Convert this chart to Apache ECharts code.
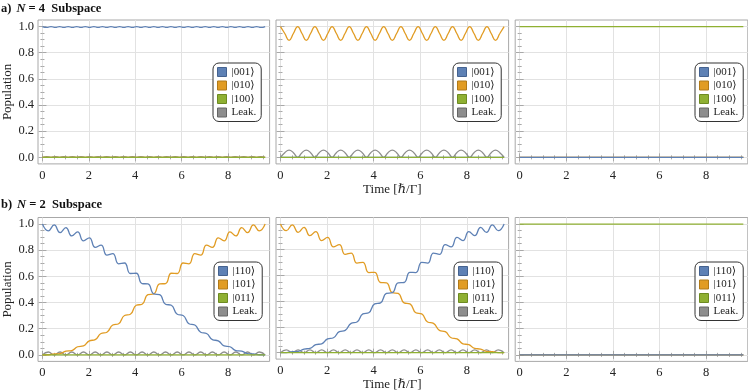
<!DOCTYPE html>
<html>
<head>
<meta charset="utf-8">
<script src="https://cdn.jsdelivr.net/npm/echarts@6/dist/echarts.min.js"></script>
<style>
  html, body { margin: 0; padding: 0; background: #fff; }
  #chart { width: 748px; height: 392px; }
</style>
</head>
<body>
<div id="chart"></div>
<script>
// sample times (time in hbar/Gamma)
const tTop = [0, 0.185, 0.369, 0.554, 0.738, 0.923, 1.108, 1.292, 1.477, 1.662, 1.846, 2.031, 2.215, 2.4, 2.585, 2.769,
  2.954, 3.138, 3.323, 3.508, 3.692, 3.877, 4.062, 4.246, 4.431, 4.615, 4.8, 4.985, 5.169, 5.354, 5.538, 5.723,
  5.908, 6.092, 6.277, 6.462, 6.646, 6.831, 7.015, 7.2, 7.385, 7.569, 7.754, 7.938, 8.123, 8.308, 8.492, 8.677,
  8.862, 9.046, 9.231, 9.415, 9.6];
const tBottom = [0, 0.253, 0.505, 0.758, 1.011, 1.263, 1.516, 1.768, 2.021, 2.274, 2.526, 2.779, 3.032, 3.284, 3.537,
  3.789, 4.042, 4.295, 4.547, 4.8, 5.053, 5.305, 5.558, 5.811, 6.063, 6.316, 6.568, 6.821, 7.074, 7.326, 7.579,
  7.832, 8.084, 8.337, 8.589, 8.842, 9.095, 9.347, 9.6];
const tFlat = [0, 9.6];

// N = 4 subspace
const stayN4 = [1, 0.993, 1, 0.993, 1, 0.993, 1, 0.993, 1, 0.993, 1, 0.993, 1, 0.993, 1, 0.993, 1, 0.993, 1, 0.993,
  1, 0.993, 1, 0.993, 1, 0.993, 1, 0.993, 1, 0.993, 1, 0.993, 1, 0.993, 1, 0.993, 1, 0.993, 1, 0.993, 1, 0.993,
  1, 0.993, 1, 0.993, 1, 0.993, 1, 0.993, 1, 0.993, 1];
const leakSmallN4 = [0, 0.006, 0, 0.006, 0, 0.006, 0, 0.006, 0, 0.006, 0, 0.006, 0, 0.006, 0, 0.006, 0, 0.006, 0, 0.006,
  0, 0.006, 0, 0.006, 0, 0.006, 0, 0.006, 0, 0.006, 0, 0.006, 0, 0.006, 0, 0.006, 0, 0.006, 0, 0.006, 0, 0.006,
  0, 0.006, 0, 0.006, 0, 0.006, 0, 0.006, 0, 0.006, 0];
const wobbleN4 = [1, 0.947, 0.895, 0.947, 1, 0.947, 0.895, 0.947, 1, 0.947, 0.895, 0.947, 1, 0.947, 0.895, 0.947,
  1, 0.947, 0.895, 0.947, 1, 0.947, 0.895, 0.947, 1, 0.947, 0.895, 0.947, 1, 0.947, 0.895, 0.947, 1, 0.947, 0.895, 0.947,
  1, 0.947, 0.895, 0.947, 1, 0.947, 0.895, 0.947, 1, 0.947, 0.895, 0.947, 1, 0.947, 0.895, 0.947, 1];
const leakN4 = [0, 0.036, 0.055, 0.036, 0, 0.036, 0.055, 0.036, 0, 0.036, 0.055, 0.036, 0, 0.036, 0.055, 0.036,
  0, 0.036, 0.055, 0.036, 0, 0.036, 0.055, 0.036, 0, 0.036, 0.055, 0.036, 0, 0.036, 0.055, 0.036, 0, 0.036, 0.055, 0.036,
  0, 0.036, 0.055, 0.036, 0, 0.036, 0.055, 0.036, 0, 0.036, 0.055, 0.036, 0, 0.036, 0.055, 0.036, 0];

// N = 2 subspace
const fallN2 = [1.000, 0.948, 0.993, 0.935, 0.973, 0.909, 0.940, 0.871, 0.895, 0.822, 0.839, 0.763, 0.774, 0.696,
  0.702, 0.622, 0.624, 0.545, 0.542, 0.466, 0.460, 0.387, 0.379, 0.310, 0.301, 0.238, 0.228, 0.173, 0.163, 0.116,
  0.107, 0.069, 0.062, 0.033, 0.028, 0.010, 0.007, 0.001, 0.000];
const riseN2 = [0.000, 0.001, 0.007, 0.010, 0.028, 0.033, 0.062, 0.069, 0.107, 0.116, 0.163, 0.173, 0.228, 0.238,
  0.301, 0.310, 0.379, 0.387, 0.460, 0.466, 0.542, 0.545, 0.624, 0.622, 0.702, 0.696, 0.774, 0.763, 0.839, 0.822,
  0.895, 0.871, 0.940, 0.909, 0.973, 0.935, 0.993, 0.948, 1.000];
const leakN2 = [0, 0.022, 0, 0.022, 0, 0.022, 0, 0.022, 0, 0.022, 0, 0.022, 0, 0.022, 0, 0.022, 0, 0.022, 0, 0.022,
  0, 0.022, 0, 0.022, 0, 0.022, 0, 0.022, 0, 0.022, 0, 0.022, 0, 0.022, 0, 0.022, 0, 0.022, 0];

const flatOne = [1, 1];
const flatZero = [0, 0];

const statesN4 = ['|001⟩', '|010⟩', '|100⟩', 'Leak.'];
const statesN2 = ['|110⟩', '|101⟩', '|011⟩', 'Leak.'];
const xTicks = [0, 2, 4, 6, 8];
const xMinorTicks = [0.5, 1, 1.5, 2.5, 3, 3.5, 4.5, 5, 5.5, 6.5, 7, 7.5, 8.5, 9, 9.5];
const yTicks = [0, 0.2, 0.4, 0.6, 0.8, 1.0];
const yMinorTicks = [0.05, 0.1, 0.15, 0.25, 0.3, 0.35, 0.45, 0.5, 0.55, 0.65, 0.7, 0.75, 0.85, 0.9, 0.95];

const colors = ['#5e81b5', '#e19c24', '#8fb032', '#8e8e8e'];
const borders = ['#45628f', '#b07a1a', '#6d8a22', '#666666'];
const serif = '"Liberation Serif", "DejaVu Serif", serif';

// each panel: curves for [blue, orange, green, gray]
const panels = [
  { left: 37, top: 20, names: statesN4, legend: [213, 63],
    curves: [[tTop, stayN4], [tFlat, flatZero], [tFlat, flatZero], [tTop, leakSmallN4]] },
  { left: 276, top: 20, names: statesN4, legend: [453, 63], timeLabel: true,
    curves: [[tFlat, flatZero], [tTop, wobbleN4], [tFlat, flatZero], [tTop, leakN4]] },
  { left: 515.2, top: 20, names: statesN4, legend: [695, 63],
    curves: [[tFlat, flatZero], [tFlat, flatZero], [tFlat, flatOne], [tFlat, flatZero]] },
  { left: 37, top: 217.5, names: statesN2, legend: [214, 262],
    curves: [[tBottom, fallN2], [tBottom, riseN2], [tFlat, flatZero], [tBottom, leakN2]] },
  { left: 276, top: 217.5, names: statesN2, legend: [454, 262], timeLabel: true,
    curves: [[tBottom, riseN2], [tBottom, fallN2], [tFlat, flatZero], [tBottom, leakN2]] },
  { left: 515.2, top: 217.5, names: statesN2, legend: [695, 262],
    curves: [[tFlat, flatZero], [tFlat, flatZero], [tFlat, flatOne], [tFlat, flatZero]] }
];

const frameColor = '#a8a8a8';
const gridLineColor = '#e2e2e2';
const textColor = '#222';

const grids = [], xAxes = [], yAxes = [], series = [], legends = [];

// a bare axis that only draws inward ticks at the given values
function tickAxis(kind, i, position, values, len) {
  const range = kind === 'x' ? { min: -0.192, max: 9.792 } : { min: -0.05, max: 1.05 };
  return Object.assign({
    gridIndex: i, type: 'value', position: position,
    axisLine: { show: false },
    axisTick: { inside: true, length: len, customValues: values, lineStyle: { color: frameColor, width: 1 } },
    axisLabel: { show: false }, splitLine: { show: false }
  }, range);
}

panels.forEach((p, i) => {
  grids.push({
    left: p.left, top: p.top, width: 232.6, height: 143.9,
    show: true, borderColor: frameColor, borderWidth: 1
  });

  xAxes.push({
    gridIndex: i, type: 'value', min: -0.192, max: 9.792,
    axisLine: { show: false },
    axisTick: { inside: true, length: 4, customValues: xTicks, lineStyle: { color: frameColor, width: 1 } },
    splitLine: { show: true, lineStyle: { color: gridLineColor, width: 1 } },
    axisLabel: {
      customValues: xTicks, margin: 5, fontFamily: serif, fontSize: 12.5, color: textColor,
      formatter: v => String(Math.round(v))
    },
    name: p.timeLabel ? 'Time [ℏ/Γ]' : '', nameLocation: 'middle', nameGap: 17,
    nameTextStyle: { fontFamily: serif, fontSize: 13, color: textColor }
  });
  xAxes.push(tickAxis('x', i, 'top', xTicks, 4));
  xAxes.push(tickAxis('x', i, 'bottom', xMinorTicks, 2));
  xAxes.push(tickAxis('x', i, 'top', xMinorTicks, 2));

  yAxes.push({
    gridIndex: i, type: 'value', min: -0.05, max: 1.05,
    axisLine: { show: false },
    axisTick: { inside: true, length: 4, customValues: yTicks, lineStyle: { color: frameColor, width: 1 } },
    splitLine: { show: true, lineStyle: { color: gridLineColor, width: 1 } },
    axisLabel: {
      show: i % 3 === 0, customValues: yTicks, margin: 4, fontFamily: serif, fontSize: 12.5, color: textColor,
      formatter: v => v.toFixed(1)
    },
    name: i % 3 === 0 ? 'Population' : '', nameLocation: 'middle', nameRotate: 90, nameGap: 24,
    nameTextStyle: { fontFamily: serif, fontSize: 13, color: textColor }
  });
  yAxes.push(tickAxis('y', i, 'right', yTicks, 4));
  yAxes.push(tickAxis('y', i, 'left', yMinorTicks, 2));
  yAxes.push(tickAxis('y', i, 'right', yMinorTicks, 2));

  // draw order: gray, orange, blue, green
  [3, 1, 0, 2].forEach(c => {
    const [times, vals] = p.curves[c];
    series.push({
      type: 'line', name: p.names[c],
      xAxisIndex: 4 * i, yAxisIndex: 4 * i,
      data: times.map((t, k) => [t, vals[k]]),
      showSymbol: false, smooth: 0.5,
      color: colors[c],
      lineStyle: { color: colors[c], width: 1.3 },
      emphasis: { disabled: true },
      animation: false
    });
  });

  legends.push({
    orient: 'vertical', left: p.legend[0], top: p.legend[1],
    data: p.names.map((n, c) => ({
      name: n, icon: 'rect',
      itemStyle: { color: colors[c], borderColor: borders[c], borderWidth: 1 }
    })),
    itemWidth: 9, itemHeight: 9, itemGap: 1.5,
    padding: [3, 5, 3, 4],
    borderColor: '#333', borderWidth: 1, borderRadius: 6,
    backgroundColor: '#fff',
    selectedMode: false,
    textStyle: { fontFamily: serif, fontSize: 11, color: textColor, lineHeight: 12 }
  });
});

const titleRich = {
  b: { fontFamily: serif, fontSize: 12.5, fontWeight: 'bold', color: '#111' },
  i: { fontFamily: serif, fontSize: 12.5, fontStyle: 'italic', color: '#111' },
  r: { fontFamily: serif, fontSize: 12.5, color: '#111' }
};

const chart = echarts.init(document.getElementById('chart'), null, { renderer: 'canvas' });
chart.setOption({
  animation: false,
  backgroundColor: '#fff',
  title: [
    { text: '{b|a)} {i|N}{r| = 4  Subspace}', left: 1, top: 0, padding: 0, textStyle: { rich: titleRich } },
    { text: '{b|b)} {i|N}{r| = 2  Subspace}', left: 1, top: 196, padding: 0, textStyle: { rich: titleRich } }
  ],
  grid: grids,
  xAxis: xAxes,
  yAxis: yAxes,
  legend: legends,
  series: series
});
</script>
</body>
</html>
